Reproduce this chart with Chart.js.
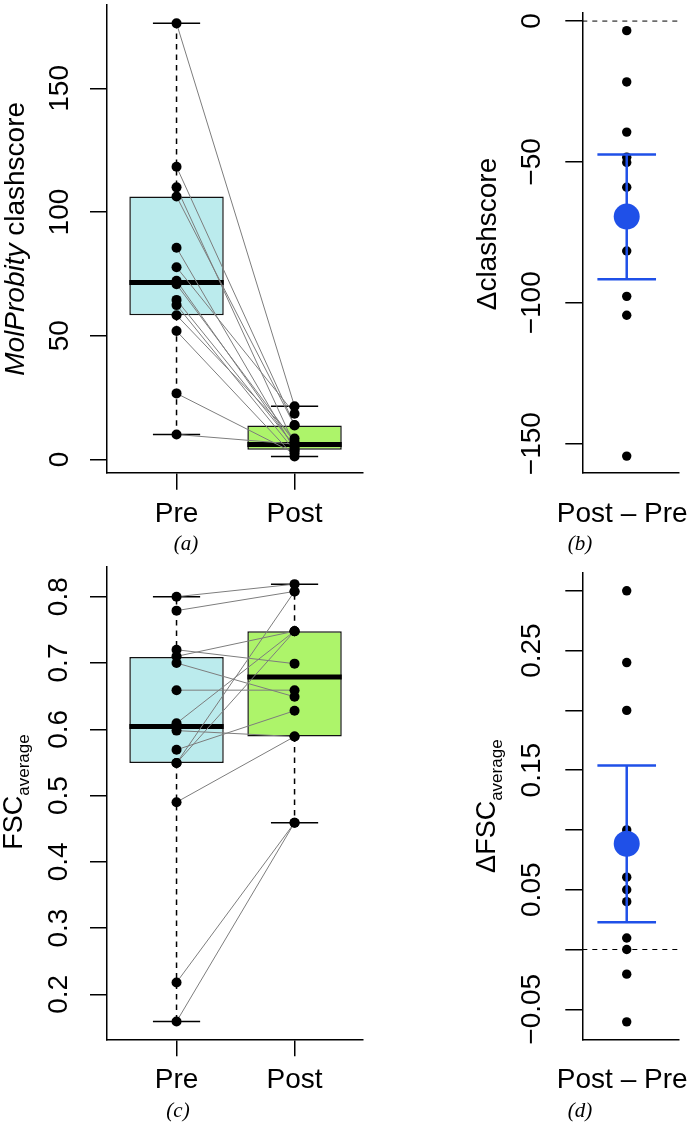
<!DOCTYPE html>
<html>
<head>
<meta charset="utf-8">
<script src="https://cdn.jsdelivr.net/npm/chart.js@4.4.1/dist/chart.umd.min.js"></script>
<style>
html,body{margin:0;padding:0;background:#fff;}
body{width:692px;height:1124px;position:relative;overflow:hidden;}
canvas{position:absolute;display:block;}
</style>
</head>
<body>
<canvas id="cA" width="368" height="560" style="left:0px;top:0px"></canvas>
<canvas id="cB" width="252" height="560" style="left:440px;top:0px"></canvas>
<canvas id="cC" width="368" height="564" style="left:0px;top:560px"></canvas>
<canvas id="cD" width="252" height="564" style="left:440px;top:560px"></canvas>
<script>
// ---------------- data ----------------
const GROUPS = ['Pre', 'Post'];

// (a) MolProbity clashscore, paired Pre/Post per model
const CLASH_PRE  = [176.3, 118.3, 110.0, 106.3, 85.6, 77.7, 72.2, 70.8, 64.5, 62.4, 58.3, 51.9, 26.7, 10.1];
const CLASH_POST = [21.5, 13.9, 5.8, 13.7, 3.9, 18.5, 5.0, 7.0, 5.5, 3.5, 8.5, 1.2, 2.5, 6.2];
// box statistics: [lower whisker, Q1, median, Q3, upper whisker]
const CLASH_BOX_PRE  = [10.1, 58.3, 71.5, 106.3, 176.3];
const CLASH_BOX_POST = [1.2, 3.9, 6.0, 13.7, 21.5];
const CLASH_TICKS = [0, 50, 100, 150];
const CLASH_TICK_LABELS = ['0', '50', '100', '150'];

// (b) Δclashscore (Post − Pre)
const CLASH_DIFF = [-3.4, -21.6, -39.4, -48.3, -50.2, -59.0, -81.6, -97.7, -104.4, -154.4];
const CLASH_DIFF_MEAN = -69.4;
const CLASH_DIFF_CI = [-91.6, -47.4];
const CLASH_DIFF_TICKS = [0, -50, -100, -150];
const CLASH_DIFF_TICK_LABELS = ['0', '\u221250', '\u2212100', '\u2212150'];

// (c) FSC average, paired Pre/Post per model
const FSC_PRE  = [0.800, 0.779, 0.720, 0.710, 0.700, 0.659, 0.609, 0.598, 0.569, 0.549, 0.549, 0.490, 0.218, 0.159];
const FSC_POST = [0.819, 0.808, 0.699, 0.748, 0.649, 0.659, 0.748, 0.589, 0.628, 0.808, 0.748, 0.589, 0.459, 0.459];
const FSC_BOX_PRE  = [0.159, 0.549, 0.604, 0.709, 0.800];
const FSC_BOX_POST = [0.459, 0.589, 0.679, 0.748, 0.819];
const FSC_TICKS = [0.2, 0.3, 0.4, 0.5, 0.6, 0.7, 0.8];
const FSC_TICK_LABELS = ['0.2', '0.3', '0.4', '0.5', '0.6', '0.7', '0.8'];

// (d) ΔFSC average (Post − Pre)
const FSC_DIFF = [0.300, 0.240, 0.200, 0.100, 0.0605, 0.050, 0.040, 0.0096, 0.000, -0.0206, -0.0605];
const FSC_DIFF_MEAN = 0.0885;
const FSC_DIFF_CI = [0.0228, 0.154];
const FSC_DIFF_TICKS = [-0.05, 0, 0.05, 0.10, 0.15, 0.20, 0.25, 0.30];
const FSC_DIFF_TICK_LABELS = ['\u22120.05', '', '0.05', '', '0.15', '', '0.25', ''];

// ---------------- styling ----------------
const SANS = "'Liberation Sans', Arial, Helvetica, sans-serif";
const SERIF = "'Liberation Serif', 'Times New Roman', serif";
const BOX_COLORS = ['#bbebed', '#adf46a'];
const BLUE = '#1f50e8';
const GRAY = '#7d7d7d';
const BOXWEX = 0.8;
const STAPLE = 0.2;

function makeTextPlugin(o) {
  return {
    id: 'panelText',
    afterDraw(chart) {
      const ctx = chart.ctx, ya = chart.scales.y, xa = chart.scales.x, ca = chart.chartArea;
      ctx.save();
      ctx.fillStyle = '#000';
      // rotated y tick labels
      ctx.font = o.tickSize + 'px ' + SANS;
      o.yTicks.forEach((v, i) => {
        const lab = o.yTickLabels[i];
        if (!lab) return;
        const py = ya.getPixelForValue(v);
        ctx.save();
        ctx.translate(ca.left - o.tickLabelGap, py);
        ctx.rotate(-Math.PI / 2);
        ctx.textAlign = 'center';
        ctx.textBaseline = 'alphabetic';
        ctx.fillText(lab, 0, 0);
        ctx.restore();
      });
      // y title (mixed styles)
      const parts = o.yTitle;
      let total = 0;
      const widths = parts.map(p => {
        ctx.font = (p.italic ? 'italic ' : '') + p.size + 'px ' + SANS;
        const w = ctx.measureText(p.text).width;
        total += w;
        return w;
      });
      ctx.save();
      ctx.translate(o.yTitleX, (ca.top + ca.bottom) / 2 + o.yTitleDy);
      ctx.rotate(-Math.PI / 2);
      ctx.textAlign = 'left';
      ctx.textBaseline = 'alphabetic';
      let x = -total / 2;
      parts.forEach((p, i) => {
        ctx.font = (p.italic ? 'italic ' : '') + p.size + 'px ' + SANS;
        ctx.fillText(p.text, x, p.shift ? p.shift : 0);
        x += widths[i];
      });
      ctx.restore();
      // x labels
      ctx.font = o.tickSize + 'px ' + SANS;
      ctx.textAlign = 'center';
      ctx.textBaseline = 'alphabetic';
      o.xLabels.forEach(l => {
        ctx.fillText(l.text, xa.getPixelForValue(l.value) + (l.dx || 0), ca.bottom + o.xLabelGap);
      });
      // caption
      ctx.font = 'italic ' + o.capSize + 'px ' + SERIF;
      ctx.fillText(o.caption, o.captionX, o.captionY);
      ctx.restore();
    }
  };
}

function axisOpts(min, max, ticks, fitFn, showTicks) {
  return {
    type: 'linear', min: min, max: max, offset: false,
    afterBuildTicks: s => { s.ticks = ticks.map(v => ({ value: v })); },
    afterFit: fitFn,
    ticks: { display: false },
    grid: { display: showTicks, offset: false, drawOnChartArea: false, drawTicks: true, tickLength: 17,
            color: '#000', lineWidth: 1.5 },
    border: { display: true, color: '#000', width: 1.5 }
  };
}

function lineDs(data, color, width, dash, order) {
  return { type: 'scatter', data: data, showLine: true, borderColor: color, borderWidth: width,
           borderDash: dash || [], pointRadius: 0, pointHoverRadius: 0, spanGaps: false,
           order: order, clip: false };
}

function boxPanel(id, pre, post, boxes, geo, txt) {
  const ds = [];
  ds.push({ type: 'bar', data: boxes.map((s, i) => ({ x: i + 1, y: [s[1], s[3]] })),
            backgroundColor: BOX_COLORS, borderColor: '#111', borderWidth: 1.5, borderSkipped: false,
            categoryPercentage: BOXWEX, barPercentage: 1, order: 10 });
  const med = [], whisk = [], stap = [];
  boxes.forEach((s, i) => {
    const c = i + 1;
    med.push({ x: c - BOXWEX / 2, y: s[2] }, { x: c + BOXWEX / 2, y: s[2] }, { x: c, y: null });
    whisk.push({ x: c, y: s[3] }, { x: c, y: s[4] }, { x: c, y: null },
               { x: c, y: s[1] }, { x: c, y: s[0] }, { x: c, y: null });
    stap.push({ x: c - STAPLE, y: s[4] }, { x: c + STAPLE, y: s[4] }, { x: c, y: null },
              { x: c - STAPLE, y: s[0] }, { x: c + STAPLE, y: s[0] }, { x: c, y: null });
  });
  ds.push(lineDs(med, '#000', 5, null, 9));
  ds.push(lineDs(whisk, '#000', 1.5, [5.5, 5], 9));
  ds.push(lineDs(stap, '#000', 1.5, null, 9));
  const pairs = [];
  pre.forEach((v, k) => { pairs.push({ x: 1, y: v }, { x: 2, y: post[k] }, { x: 2, y: null }); });
  ds.push(lineDs(pairs, GRAY, 1, null, 5));
  const pts = pre.map(v => ({ x: 1, y: v })).concat(post.map(v => ({ x: 2, y: v })));
  ds.push({ type: 'scatter', data: pts, pointRadius: 5, pointBackgroundColor: '#000',
            pointBorderWidth: 0, order: 1, clip: false });
  return new Chart(document.getElementById(id), {
    type: 'scatter',
    data: { datasets: ds },
    options: {
      responsive: false, animation: false, devicePixelRatio: 1, events: [],
      layout: { padding: { top: geo.padTop, right: geo.padRight, left: 0, bottom: 0 } },
      plugins: { legend: { display: false }, tooltip: { enabled: false } },
      scales: {
        x: axisOpts(geo.xMin, geo.xMax, [1, 2], s => { s.height = geo.bottomH; }, true),
        y: axisOpts(geo.yMin, geo.yMax, txt.yTicks, s => { s.width = geo.leftW; }, true)
      }
    },
    plugins: [makeTextPlugin(txt)]
  });
}

function diffPanel(id, diffs, mean, ci, geo, txt) {
  const CAP = 0.66;
  const ds = [];
  ds.push(lineDs([{ x: geo.xMin, y: 0 }, { x: geo.xMax, y: 0 }], '#000', 1, [5, 5], 10));
  ds.push({ type: 'scatter', data: diffs.map(v => ({ x: 1, y: v })), pointRadius: 4.7,
            pointBackgroundColor: '#000', pointBorderWidth: 0, order: 5, clip: false });
  ds.push(lineDs([{ x: 1, y: ci[0] }, { x: 1, y: ci[1] }], BLUE, 2.5, null, 3));
  ds.push(lineDs([{ x: 1 - CAP, y: ci[0] }, { x: 1 + CAP, y: ci[0] }, { x: 1, y: null },
                  { x: 1 - CAP, y: ci[1] }, { x: 1 + CAP, y: ci[1] }], BLUE, 2.5, null, 3));
  ds.push({ type: 'scatter', data: [{ x: 1, y: mean }], pointRadius: 13,
            pointBackgroundColor: BLUE, pointBorderWidth: 0, order: 1, clip: false });
  return new Chart(document.getElementById(id), {
    type: 'scatter',
    data: { datasets: ds },
    options: {
      responsive: false, animation: false, devicePixelRatio: 1, events: [],
      layout: { padding: { top: geo.padTop, right: 0, left: 0, bottom: 0 } },
      plugins: { legend: { display: false }, tooltip: { enabled: false } },
      scales: {
        x: axisOpts(geo.xMin, geo.xMax, [], s => { s.height = geo.bottomH; }, false),
        y: axisOpts(geo.yMin, geo.yMax, txt.yTicks, s => { s.width = geo.leftW; }, true)
      }
    },
    plugins: [makeTextPlugin(txt)]
  });
}

const PREPOST = [{ value: 1, text: GROUPS[0] }, { value: 2, text: GROUPS[1] }];

boxPanel('cA', CLASH_PRE, CLASH_POST, [CLASH_BOX_PRE, CLASH_BOX_POST],
  { xMin: 0.4108, xMax: 2.58, yMin: -5.36, yMax: 183.72, leftW: 107, bottomH: 87.3, padTop: 0, padRight: 0.7 },
  { yTicks: CLASH_TICKS, yTickLabels: CLASH_TICK_LABELS, tickSize: 28, tickLabelGap: 39,
    yTitle: [{ text: 'MolProbity', italic: true, size: 28 }, { text: ' clashscore', size: 28 }],
    yTitleX: 24, yTitleDy: 0, xLabels: PREPOST, xLabelGap: 49,
    caption: '(a)', capSize: 21, captionX: 186, captionY: 550 });

diffPanel('cB', CLASH_DIFF, CLASH_DIFF_MEAN, CLASH_DIFF_CI,
  { xMin: 0, xMax: 2.177, yMin: -160.3, yMax: 2.865, leftW: 142.3, bottomH: 87.3, padTop: 0 },
  { yTicks: CLASH_DIFF_TICKS, yTickLabels: CLASH_DIFF_TICK_LABELS, tickSize: 28, tickLabelGap: 42,
    yTitle: [{ text: '\u0394clashscore', size: 28 }],
    yTitleX: 56, yTitleDy: -8.8, xLabels: [{ value: 1, text: 'Post \u2013 Pre', dx: -4.5 }], xLabelGap: 49,
    caption: '(b)', capSize: 21, captionX: 140, captionY: 550 });

boxPanel('cC', FSC_PRE, FSC_POST, [FSC_BOX_PRE, FSC_BOX_POST],
  { xMin: 0.4108, xMax: 2.58, yMin: 0.1322, yMax: 0.8453, leftW: 107, bottomH: 84.7, padTop: 6.7, padRight: 0.7 },
  { yTicks: FSC_TICKS, yTickLabels: FSC_TICK_LABELS, tickSize: 28, tickLabelGap: 40.5,
    yTitle: [{ text: 'FSC', size: 27 }, { text: 'average', size: 17, shift: 7 }],
    yTitleX: 22, yTitleDy: -11, xLabels: PREPOST, xLabelGap: 49,
    caption: '(c)', capSize: 21, captionX: 178, captionY: 557 });

diffPanel('cD', FSC_DIFF, FSC_DIFF_MEAN, FSC_DIFF_CI,
  { xMin: 0, xMax: 2.177, yMin: -0.0751, yMax: 0.3149, leftW: 142.3, bottomH: 84.7, padTop: 6.7 },
  { yTicks: FSC_DIFF_TICKS, yTickLabels: FSC_DIFF_TICK_LABELS, tickSize: 28, tickLabelGap: 42,
    yTitle: [{ text: '\u0394FSC', size: 27 }, { text: 'average', size: 17, shift: 7 }],
    yTitleX: 55, yTitleDy: 0, xLabels: [{ value: 1, text: 'Post \u2013 Pre', dx: -4.5 }], xLabelGap: 49,
    caption: '(d)', capSize: 21, captionX: 140, captionY: 557 });
</script>
</body>
</html>
